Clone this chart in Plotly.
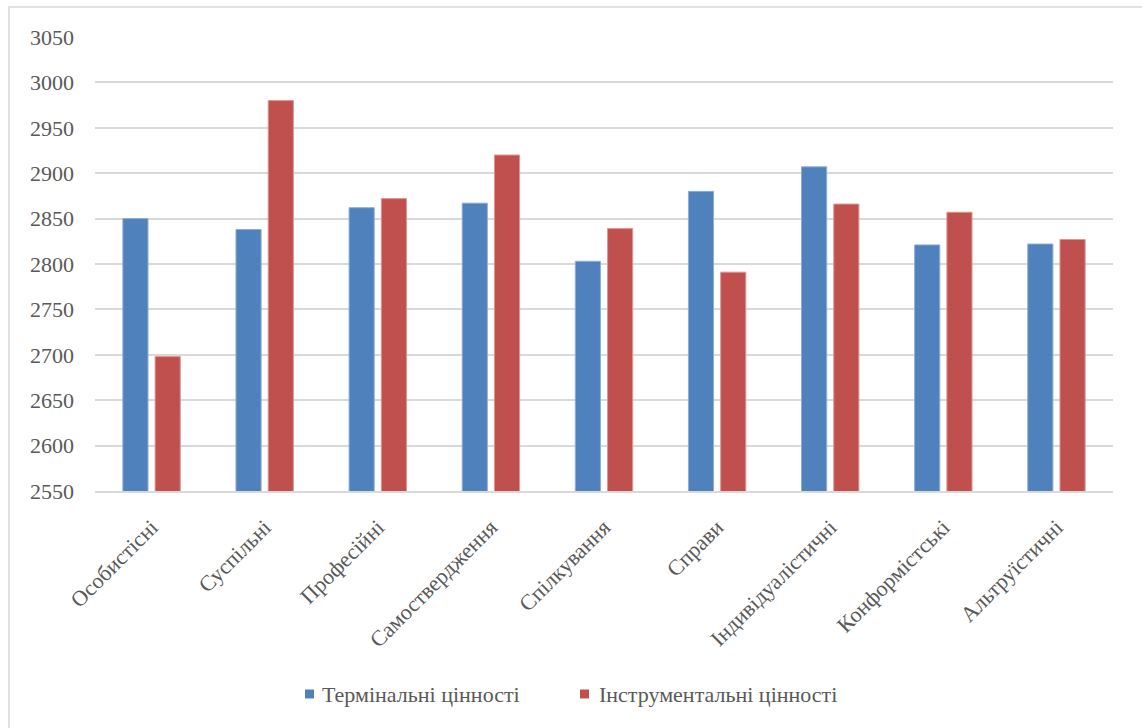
import plotly.graph_objects as go

categories = [
    "Особистісні", "Суспільні", "Професійні", "Самоствердження", "Спілкування",
    "Справи", "Індивідуалістичні", "Конформістські", "Альтруїстичні",
]
terminal = [2850, 2838, 2862, 2867, 2803, 2880, 2907, 2821, 2822]
instrumental = [2698, 2980, 2872, 2920, 2839, 2791, 2866, 2857, 2827]
series_names = ["Термінальні цінності", "Інструментальні цінності"]
series_colors = ["#4F81BD", "#C0504D"]
edge_colors = ["#8eadd6", "#dd9593"]
y_ticks = list(range(2550, 3051, 50))

W, H = 1142, 728
L, R, T, B = 95, 29, 37, 237
font_family = "'Times New Roman', 'Liberation Serif', 'DejaVu Serif', serif"
text_color = "#595959"
grid_color = "#d9d9d9"
pw, ph = W - L - R, H - T - B


def px_x(x):
    return (x - L) / pw


def px_y(y):
    return (H - B - y) / ph


fig = go.Figure()
for name, vals, col, edge in zip(series_names, [terminal, instrumental],
                                 series_colors, edge_colors):
    fig.add_trace(go.Bar(
        x=categories, y=vals, name=name, showlegend=False,
        marker=dict(color=col, line=dict(color=edge, width=1)),
    ))

# outer chart frame (left/top edges visible)
shapes = [dict(
    type="rect", xref="paper", yref="paper",
    x0=px_x(9), x1=px_x(W + 20), y0=px_y(H + 20), y1=px_y(7),
    line=dict(color=grid_color, width=1.5), fillcolor="rgba(0,0,0,0)",
    layer="below",
)]

# legend: colour squares with labels below the plot
annotations = []
legend_items = [(305, 320), (580, 597)]
for (sx, tx), name, col in zip(legend_items, series_names, series_colors):
    shapes.append(dict(
        type="rect", xref="paper", yref="paper",
        x0=px_x(sx), x1=px_x(sx + 9), y0=px_y(698.5), y1=px_y(689.5),
        line=dict(width=0), fillcolor=col,
    ))
    annotations.append(dict(
        text=name, xref="paper", yref="paper", x=px_x(tx), y=px_y(694),
        xanchor="left", yanchor="middle", showarrow=False,
        font=dict(family=font_family, size=22, color=text_color),
    ))

fig.update_layout(
    width=W, height=H,
    margin=dict(l=L, r=R, t=T, b=B),
    paper_bgcolor="white", plot_bgcolor="white",
    barmode="group", bargap=0.43, bargroupgap=0.22,
    font=dict(family=font_family, size=22, color=text_color),
    showlegend=False,
    xaxis=dict(
        tickangle=-45, showgrid=False, showline=True,
        linecolor=grid_color, linewidth=1.5, ticks="",
        ticklabelstandoff=13,
        tickfont=dict(family=font_family, size=22, color=text_color),
    ),
    yaxis=dict(
        range=[2550, 3050], tickvals=y_ticks, showgrid=True,
        gridcolor=grid_color, gridwidth=1.5, zeroline=False,
        showline=False, ticks="", ticklabelstandoff=20,
        tickfont=dict(family=font_family, size=22, color=text_color),
    ),
    shapes=shapes,
    annotations=annotations,
)

fig.write_html("out.html")
